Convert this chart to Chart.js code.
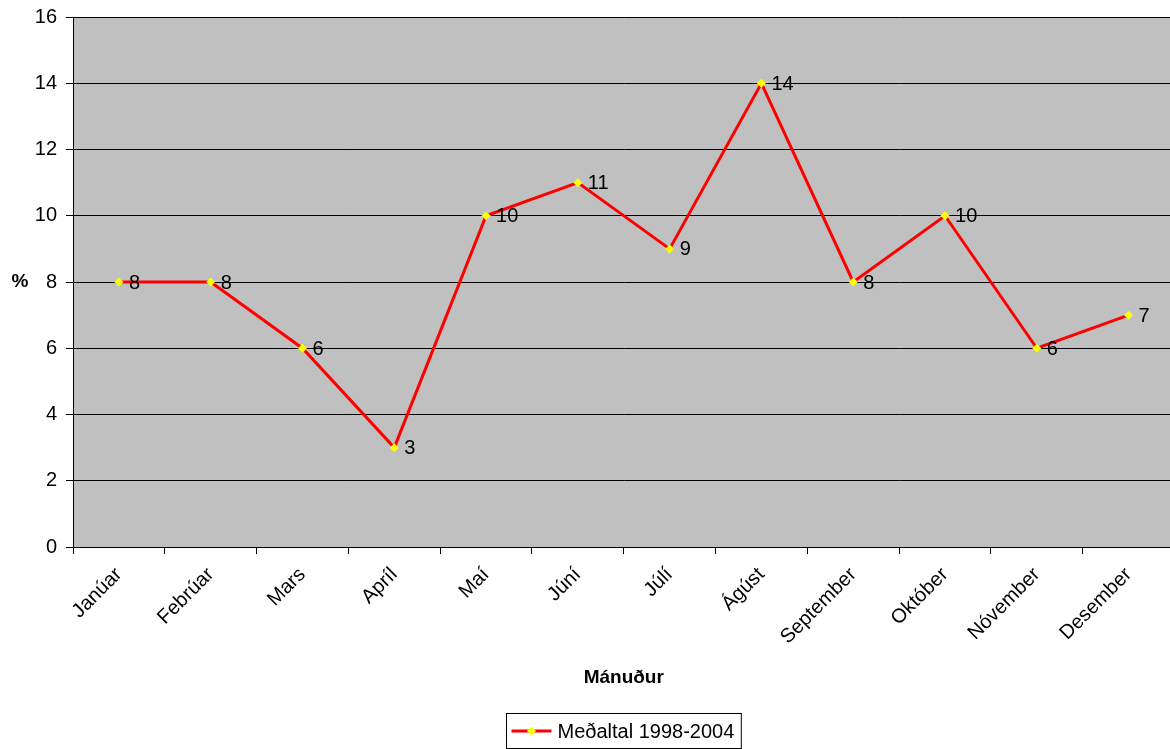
<!DOCTYPE html>
<html>
<head>
<meta charset="utf-8">
<script src="https://cdn.jsdelivr.net/npm/chart.js@4/dist/chart.umd.min.js"></script>
<style>
  html, body { margin: 0; background: #fff; overflow: hidden; }
  canvas { display: block; }
</style>
</head>
<body>
<!-- plot area runs a little past the right edge, as in the original -->
<canvas id="chart" width="1179" height="749"></canvas>
<script>
const months = ["Janúar", "Febrúar", "Mars", "Apríl", "Maí", "Júní", "Júlí", "Ágúst", "September", "Október", "Nóvember", "Desember"];
const avgValues = [8, 8, 6, 3, 10, 11, 9, 14, 8, 10, 6, 7];
const seriesLabel = "Meðaltal 1998-2004";
const xTitle = "Mánuður";
const yTitle = "%";

const FONT = "Arial, 'Liberation Sans', sans-serif";

// gray plot area behind the grid
const plotBg = {
  id: "plotBg",
  beforeDraw(chart) {
    const { ctx, chartArea: a } = chart;
    ctx.save();
    ctx.fillStyle = "#C0C0C0";
    ctx.fillRect(a.left, a.top, a.right - a.left, a.bottom - a.top);
    ctx.strokeStyle = "#808080";
    ctx.lineWidth = 1;
    ctx.strokeRect(a.left + 0.5, a.top + 0.5, a.right - a.left, a.bottom - a.top);
    ctx.restore();
  }
};

// value labels right of each point, "%" title, and boxed legend
const extras = {
  id: "extras",
  afterDatasetsDraw(chart) {
    const { ctx } = chart;
    const meta = chart.getDatasetMeta(0);
    ctx.save();
    ctx.font = "20px " + FONT;
    ctx.fillStyle = "#000";
    ctx.textAlign = "left";
    ctx.textBaseline = "middle";
    meta.data.forEach((pt, i) => {
      ctx.fillText(String(avgValues[i]), pt.x + 10, pt.y + 1);
    });
    ctx.restore();
  },
  afterDraw(chart) {
    const { ctx, scales } = chart;
    const a = chart.chartArea;
    ctx.save();
    ctx.font = "bold 19px " + FONT;
    ctx.fillStyle = "#000";
    ctx.textAlign = "center";
    ctx.textBaseline = "middle";
    ctx.fillText(yTitle, scales.y.left + 20, (a.top + a.bottom) / 2);

    // legend
    ctx.font = "20px " + FONT;
    const tw = ctx.measureText(seriesLabel).width;
    const w = 5 + 40 + 6 + tw + 7;
    const h = 35;
    const cx = (a.left + a.right) / 2;
    const x0 = Math.round(cx - w / 2) + 0.5;
    const y0 = 713.5;
    ctx.fillStyle = "#fff";
    ctx.fillRect(x0, y0, w, h);
    ctx.strokeStyle = "#000";
    ctx.lineWidth = 1;
    ctx.strokeRect(x0, y0, w, h);
    const my = y0 + h / 2;
    ctx.strokeStyle = "#FF0000";
    ctx.lineWidth = 3;
    ctx.beginPath();
    ctx.moveTo(x0 + 5, my);
    ctx.lineTo(x0 + 45, my);
    ctx.stroke();
    ctx.fillStyle = "#FFFF00";
    ctx.beginPath();
    ctx.moveTo(x0 + 25, my - 4.5);
    ctx.lineTo(x0 + 29.5, my);
    ctx.lineTo(x0 + 25, my + 4.5);
    ctx.lineTo(x0 + 20.5, my);
    ctx.closePath();
    ctx.fill();
    ctx.fillStyle = "#000";
    ctx.textAlign = "left";
    ctx.fillText(seriesLabel, x0 + 51, my + 1);
    ctx.restore();
  }
};

new Chart(document.getElementById("chart"), {
  type: "line",
  data: {
    labels: months,
    datasets: [{
      label: seriesLabel,
      data: avgValues,
      borderColor: "#FF0000",
      borderWidth: 3,
      pointStyle: "rectRot",
      pointRadius: 4.5,
      pointBackgroundColor: "#FFFF00",
      pointBorderWidth: 0,
      tension: 0
    }]
  },
  options: {
    responsive: false,
    animation: false,
    layout: { padding: { top: 17, right: 0, left: 0, bottom: 0 } },
    plugins: {
      legend: { display: false },
      tooltip: { enabled: false }
    },
    scales: {
      x: {
        offset: true,
        grid: { offset: true, drawOnChartArea: false, drawTicks: true, tickLength: 7, color: "#000" },
        border: { color: "#000" },
        ticks: { minRotation: 45, maxRotation: 45, autoSkip: false, color: "#000", font: { size: 20, family: FONT }, padding: 9 },
        title: { display: true, text: xTitle, color: "#000", font: { size: 19, weight: "bold", family: FONT }, padding: { top: 0, bottom: 60 } },
        afterFit(scale) {
          scale.height = 202;
          scale.paddingLeft = 0;
          scale.paddingRight = 0;
        }
      },
      y: {
        min: 0,
        max: 16,
        grid: { color: "#000", tickLength: 7, lineWidth: 1 },
        border: { color: "#000" },
        ticks: { stepSize: 2, color: "#000", font: { size: 20, family: FONT }, padding: 9 },
        afterFit(scale) {
          scale.width = 73;
          scale.paddingTop = 0;
          scale.paddingBottom = 0;
        }
      }
    }
  },
  plugins: [plotBg, extras]
});
</script>
</body>
</html>
